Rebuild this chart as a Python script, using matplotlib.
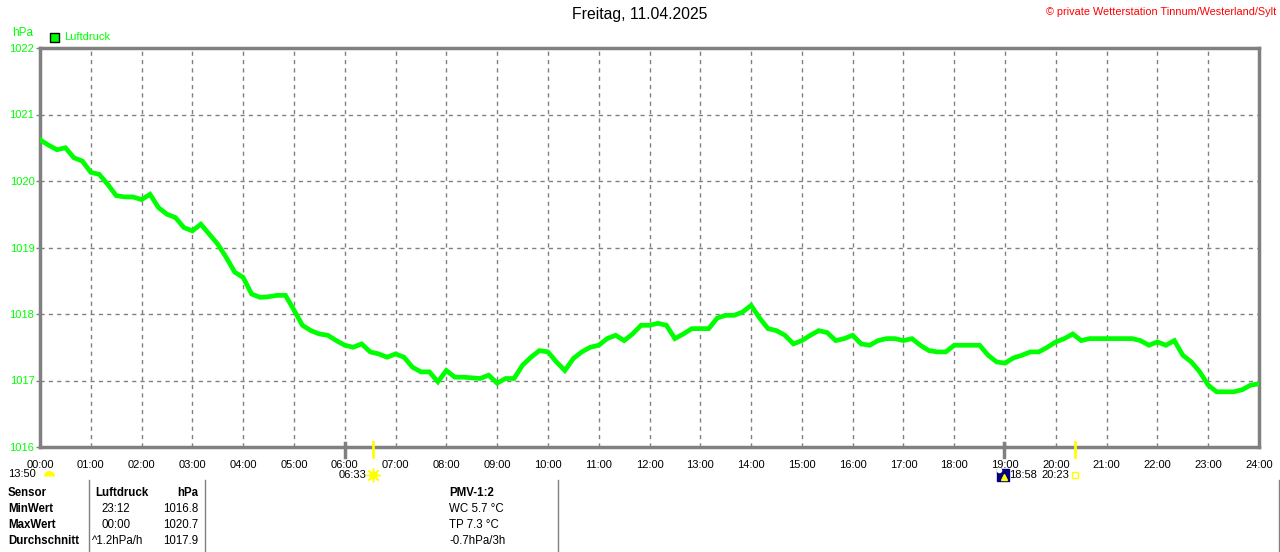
import numpy as np
import matplotlib
matplotlib.use("Agg")
import matplotlib.pyplot as plt
import matplotlib.transforms as mtransforms
from matplotlib import font_manager

# ---------------- data ----------------
hours = [i / 6 for i in range(145)]  # every 10 minutes, 00:00 .. 24:00
pressure = [
    1020.62, 1020.54, 1020.47, 1020.50, 1020.35, 1020.30,
    1020.13, 1020.10, 1019.95, 1019.78, 1019.76, 1019.76,
    1019.72, 1019.80, 1019.60, 1019.50, 1019.45, 1019.30,
    1019.25, 1019.35, 1019.20, 1019.05, 1018.85, 1018.63,
    1018.55, 1018.30, 1018.25, 1018.26, 1018.28, 1018.28,
    1018.06, 1017.83, 1017.75, 1017.70, 1017.68, 1017.60,
    1017.53, 1017.50, 1017.55, 1017.43, 1017.40, 1017.35,
    1017.40, 1017.35, 1017.20, 1017.13, 1017.13, 1016.98,
    1017.15, 1017.05, 1017.05, 1017.04, 1017.03, 1017.08,
    1016.96, 1017.03, 1017.03, 1017.23, 1017.35, 1017.45,
    1017.43, 1017.28, 1017.15, 1017.33, 1017.43, 1017.50,
    1017.53, 1017.63, 1017.68, 1017.60, 1017.70, 1017.83,
    1017.83, 1017.86, 1017.83, 1017.63, 1017.70, 1017.78,
    1017.78, 1017.78, 1017.94, 1017.98, 1017.98, 1018.03,
    1018.13, 1017.94, 1017.78, 1017.75, 1017.68, 1017.55,
    1017.60, 1017.68, 1017.75, 1017.72, 1017.60, 1017.63,
    1017.68, 1017.55, 1017.53, 1017.60, 1017.63, 1017.63,
    1017.60, 1017.63, 1017.53, 1017.45, 1017.43, 1017.43,
    1017.53, 1017.53, 1017.53, 1017.53, 1017.38, 1017.28,
    1017.26, 1017.34, 1017.38, 1017.43, 1017.43, 1017.50,
    1017.58, 1017.63, 1017.70, 1017.60, 1017.63, 1017.63,
    1017.63, 1017.63, 1017.63, 1017.63, 1017.60, 1017.53,
    1017.58, 1017.53, 1017.60, 1017.38, 1017.28, 1017.13,
    1016.93, 1016.83, 1016.83, 1016.83, 1016.86, 1016.93,
    1016.95,
]
x_ticks = list(range(25))
x_labels = [f"{h:02d}:00" for h in x_ticks]
y_ticks = [1016, 1017, 1018, 1019, 1020, 1021, 1022]

title = "Freitag, 11.04.2025"
copyright_text = "© private Wetterstation Tinnum/Westerland/Sylt"
series_name = "Luftdruck"
unit = "hPa"

grey_marks = [6.0, 18.97]          # grey ticks on time axis
yellow_marks = [6.55, 20.38]       # yellow ticks (sunrise / other)
sun_labels = [(0.0, "13:50"), (6.55, "06:33"), (18.97, "18:58"), (20.38, "20:23")]

table_rows = [
    ("Sensor", "Luftdruck", "hPa", "PMV-1:2"),
    ("MinWert", "23:12", "1016.8", "WC 5.7 °C"),
    ("MaxWert", "00:00", "1020.7", "TP 7.3 °C"),
    ("Durchschnitt", "^1.2hPa/h", "1017.9", "-0.7hPa/3h"),
]

# ---------------- figure ----------------
W, H = 1280, 552
plt.rcParams['font.family'] = ['Liberation Sans', 'DejaVu Sans']
installed = {f.name for f in font_manager.fontManager.ttflist}
NARROW = 'Liberation Sans Narrow' if 'Liberation Sans Narrow' in installed else 'Liberation Sans'
NSIZE = 9 if NARROW == 'Liberation Sans Narrow' else 8

fig = plt.figure(figsize=(W / 100, H / 100), dpi=100)
fig.patch.set_facecolor("white")

def fx(px):
    return px / W

def fy(py):
    return 1 - py / H

ax = fig.add_axes([fx(40), fy(447), fx(1259) - fx(40), fy(48) - fy(447)])
GREEN = "#00ff00"
GREY = "#808080"

ax.plot(hours, pressure, color=GREEN, lw=3.4, solid_joinstyle="miter", zorder=3)
ax.set_xlim(0, 24)
ax.set_ylim(1016, 1022)
ax.set_xticks(x_ticks)
ax.set_xticklabels(x_labels, fontsize=NSIZE, color="black", family=NARROW)
ax.set_yticks(y_ticks)
ax.set_yticklabels([str(v) for v in y_ticks], fontsize=NSIZE, color=GREEN,
                   family=NARROW)
ax.tick_params(axis="y", length=3, width=1, color=GREY, pad=1)
ax.tick_params(axis="x", length=0, pad=9)
ax.grid(True, color=GREY, ls=(0, (3, 3)), lw=1)
for s in ax.spines.values():
    s.set_color(GREY)
    s.set_linewidth(2.5)

trans = mtransforms.blended_transform_factory(ax.transData, ax.transAxes)
for t in grey_marks:
    ax.plot([t, t], [-0.025, 0.01], transform=trans, color=GREY, lw=2.5,
            clip_on=False, zorder=4)
for t in yellow_marks:
    ax.plot([t, t], [-0.025, 0.012], transform=trans, color="#ffff00", lw=2,
            clip_on=False, zorder=4)

# sun / moon labels below time axis
label_y = -0.069
tkw = dict(fontsize=NSIZE, family=NARROW, va="center")
fig.text(fx(8), fy(474), sun_labels[0][1], ha="left", **tkw)
ax.plot([0.18], [label_y - 0.004], transform=trans, marker="o", ms=8,
        fillstyle="top", markerfacecolor="#ffff00", markerfacecoloralt="none",
        markeredgecolor="#ffff00", mew=0, clip_on=False, ls="none")
ax.text(sun_labels[1][0] - 0.12, label_y, sun_labels[1][1], transform=trans,
        ha="right", **tkw)
ax.plot([sun_labels[1][0]], [label_y], transform=trans, marker="o", ms=5,
        color="#ffff00", clip_on=False, ls="none")
ax.plot([sun_labels[1][0]], [label_y], transform=trans, marker=(8, 2, 0), ms=10,
        color="#ffff00", mew=1, clip_on=False, ls="none")
ax.text(sun_labels[2][0] + 0.1, label_y, sun_labels[2][1], transform=trans,
        ha="left", **tkw)
ax.plot([sun_labels[2][0] - 0.02], [label_y], transform=trans, marker="s", ms=8,
        color="#000080", clip_on=False, ls="none")
ax.plot([sun_labels[2][0] + 0.0], [label_y - 0.005], transform=trans, marker="^",
        ms=5, color="#ffff00", clip_on=False, ls="none")
ax.plot([sun_labels[2][0] - 0.08], [label_y + 0.012], transform=trans, marker="o",
        ms=3, color="white", clip_on=False, ls="none")
ax.text(sun_labels[3][0] - 0.12, label_y, sun_labels[3][1], transform=trans,
        ha="right", **tkw)
ax.plot([sun_labels[3][0]], [label_y], transform=trans, marker="s", ms=5,
        markerfacecolor="none", markeredgecolor="#ffff00", mew=1,
        clip_on=False, ls="none")

# header texts
fig.text(0.5, fy(15), title, fontsize=11.3, ha="center", va="center")
fig.text(fx(1276), fy(12), copyright_text, fontsize=7.8, ha="right",
         va="center", color="#ff0000")
fig.text(fx(12), fy(33), unit, fontsize=8.5, color=GREEN, va="center")
fig.patches.append(plt.Rectangle((fx(50), fy(42)), fx(9), 9 / H,
                                 transform=fig.transFigure, facecolor=GREEN,
                                 edgecolor="black", lw=1))
fig.text(fx(64), fy(37.5), series_name, fontsize=8, color=GREEN, va="center")

# bottom table
for xv in [89, 205, 558, 1279]:
    fig.add_artist(plt.Line2D([fx(xv), fx(xv)], [fy(480), fy(552)],
                              color=GREY, lw=1))
row_y = [493, 509, 525, 541]
c1_x = [95, 101, 101, 92]
for i, (c0, c1, c2, c3) in enumerate(table_rows):
    bold = "bold" if i == 0 else "normal"
    fig.text(fx(8), fy(row_y[i]), c0, fontsize=8.3, weight="bold", va="center")
    fig.text(fx(c1_x[i]), fy(row_y[i]), c1, fontsize=8.3, weight=bold,
             va="center")
    fig.text(fx(198), fy(row_y[i]), c2, fontsize=8.3, weight=bold,
             va="center", ha="right")
    fig.text(fx(449), fy(row_y[i]), c3, fontsize=8.3, weight=bold, va="center")

fig.savefig("out.png", dpi=100, facecolor="white")
